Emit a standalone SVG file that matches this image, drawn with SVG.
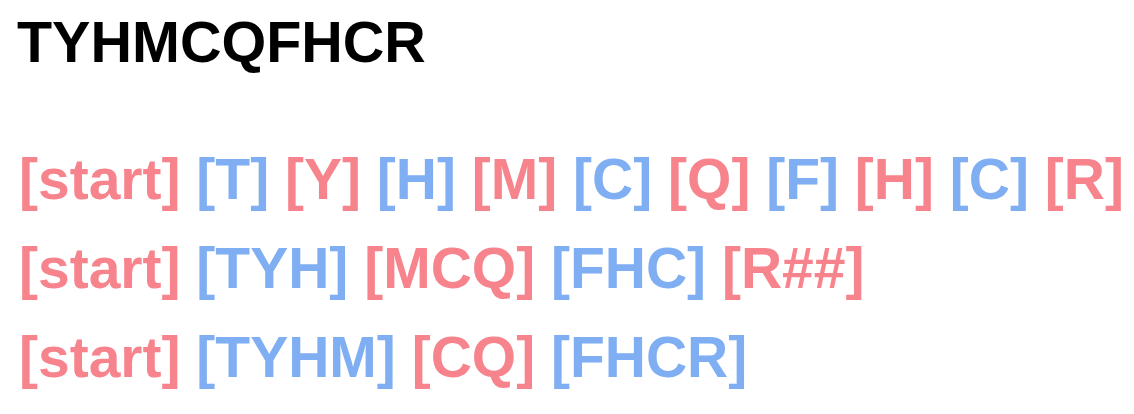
<svg xmlns="http://www.w3.org/2000/svg" width="1134" height="414" viewBox="0 0 1134 414">
<style>
text{font-family:"Liberation Sans",Arial,sans-serif;font-weight:bold;font-size:57px}
.t{fill:#000;font-size:57.5px}
.p{fill:#F7848C}
.b{fill:#7FAEF2}
</style>
<rect width="1134" height="414" fill="#fff"/>
<g id="title"><text class="t" x="17" y="62">TYHMCQFHCR</text></g>
<g id="row1"><text x="19" y="199" xml:space="preserve"><tspan class="p">[start]</tspan> <tspan class="b">[T]</tspan> <tspan class="p">[Y]</tspan> <tspan class="b">[H]</tspan> <tspan class="p">[M]</tspan> <tspan class="b">[C]</tspan> <tspan class="p">[Q]</tspan> <tspan class="b">[F]</tspan> <tspan class="p">[H]</tspan> <tspan class="b">[C]</tspan> <tspan class="p">[R]</tspan></text></g>
<g id="row2"><text x="19" y="288" xml:space="preserve"><tspan class="p">[start]</tspan> <tspan class="b">[TYH]</tspan> <tspan class="p">[MCQ]</tspan> <tspan class="b">[FHC]</tspan> <tspan class="p">[R##]</tspan></text></g>
<g id="row3"><text x="19" y="377" xml:space="preserve"><tspan class="p">[start]</tspan> <tspan class="b">[TYHM]</tspan> <tspan class="p">[CQ]</tspan> <tspan class="b">[FHCR]</tspan></text></g>
</svg>
